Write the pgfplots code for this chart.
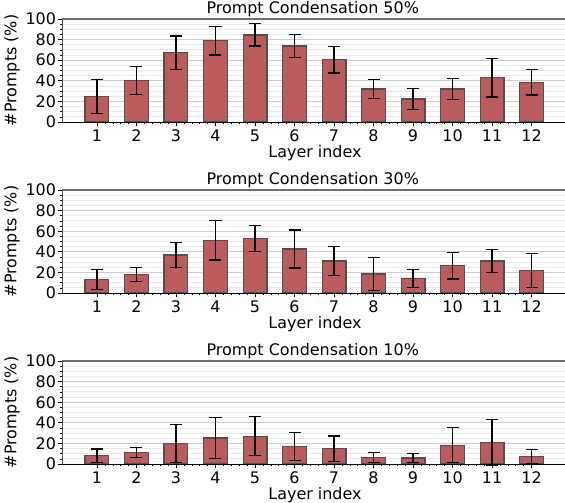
\documentclass[border=0pt]{standalone}
\usepackage{fontspec}
\setmainfont{DejaVu Sans}
\usepackage{pgfplots}
\pgfplotsset{compat=1.18}
\usepackage{pgfplotstable}

\definecolor{barfill}{RGB}{187,91,91}
\definecolor{baredge}{RGB}{80,80,80}
\definecolor{topspine}{RGB}{110,110,110}
\definecolor{majgrid}{RGB}{205,205,205}
\definecolor{mingrid}{RGB}{232,232,232}

\pgfplotstableread{
x y e
1 25.0 16.6
2 40.2 13.7
3 67.2 16.2
4 78.8 13.8
5 84.6 10.9
6 73.8 11.5
7 60.4 12.9
8 32.0 9.3
9 22.4 10.4
10 32.0 10.3
11 43.0 18.7
12 38.6 12.4
}\tabA

\pgfplotstableread{
x y e
1 13.3 9.7
2 17.8 6.6
3 36.9 12.0
4 51.1 19.0
5 52.8 12.5
6 42.7 18.5
7 31.1 14.0
8 18.4 15.8
9 14.2 8.6
10 26.5 13.0
11 31.1 11.0
12 22.0 16.3
}\tabB

\pgfplotstableread{
x y e
1 8.1 6.5
2 11.3 4.7
3 19.7 18.6
4 25.2 20.2
5 26.9 18.9
6 16.8 13.6
7 14.9 12.3
8 6.1 4.7
9 5.8 4.3
10 18.1 17.0
11 21.0 22.0
12 7.1 7.0
}\tabC

\newcommand{\tf}{\fontsize{16}{18}\selectfont}
\newcommand{\lf}{\fontsize{16}{18}\selectfont}

\pgfplotsset{
  panel/.style={
    scale only axis, width=506bp, height=103bp,
    anchor=south west,
    xmin=0.114, xmax=12.924, ymin=0, ymax=100,
    xtick={1,...,12}, ytick={0,20,...,100},
    xticklabels={{\tf 1},{\tf 2},{\tf 3},{\tf 4},{\tf 5},{\tf 6},{\tf 7},{\tf 8},{\tf 9},{\tf 10},{\tf 11},{\tf 12}},
    yticklabels={{\tf 0},{\tf 20},{\tf 40},{\tf 60},{\tf 80},{\tf 100}},
    minor x tick num=4, minor y tick num=3,
    tick align=outside,
    major tick length=4bp, minor tick length=2bp,
    tick style={black, line width=0.6bp},
    minor tick style={black, line width=0.5bp},
    xtick pos=bottom, ytick pos=left,
    ymajorgrids, yminorgrids,
    major grid style={draw=majgrid, line width=0.8bp},
    minor grid style={draw=mingrid, line width=0.8bp},
    axis line style={draw=none},
    xlabel style={font=\lf, yshift=3bp},
    ylabel style={font=\lf, yshift=-1bp},
    title style={font=\lf, at={(0.4955,1)}, yshift=-7.5bp},
    xlabel={Layer index},
    ylabel={\#Prompts (\%)},
    xticklabel style={yshift=0bp},
    yticklabel style={xshift=1.5bp},
    clip=false,
    execute at end axis={
      \draw[black, line width=0.9bp] (rel axis cs:0,0) -- (rel axis cs:1,0);
      \draw[baredge, line width=0.9bp] (rel axis cs:0,0) -- (rel axis cs:0,1);
      \draw[topspine, line width=1.6bp] (rel axis cs:0,1) -- (rel axis cs:1,1);
    },
  },
  bars/.style={
    ybar, bar width=0.6, bar shift=0pt,
    fill=barfill, draw=baredge, line width=1.3bp,
    error bars/.cd, y dir=both, y explicit,
    error bar style={black, line width=1.2bp},
    error mark options={black, line width=1.2bp, mark size=6bp, rotate=90},
  },
}

\begin{document}
\begin{tikzpicture}
\path[use as bounding box] (0,0) rectangle (565bp,503bp);
\begin{axis}[panel, at={(62bp,381bp)}, title={Prompt Condensation 50\%}]
\addplot[bars] table[x=x, y=y, y error=e] {\tabA};
\end{axis}
\begin{axis}[panel, at={(62bp,210bp)}, title={Prompt Condensation 30\%}]
\addplot[bars] table[x=x, y=y, y error=e] {\tabB};
\end{axis}
\begin{axis}[panel, at={(62bp,39bp)}, title={Prompt Condensation 10\%}]
\addplot[bars] table[x=x, y=y, y error=e] {\tabC};
\end{axis}
\end{tikzpicture}
\end{document}
